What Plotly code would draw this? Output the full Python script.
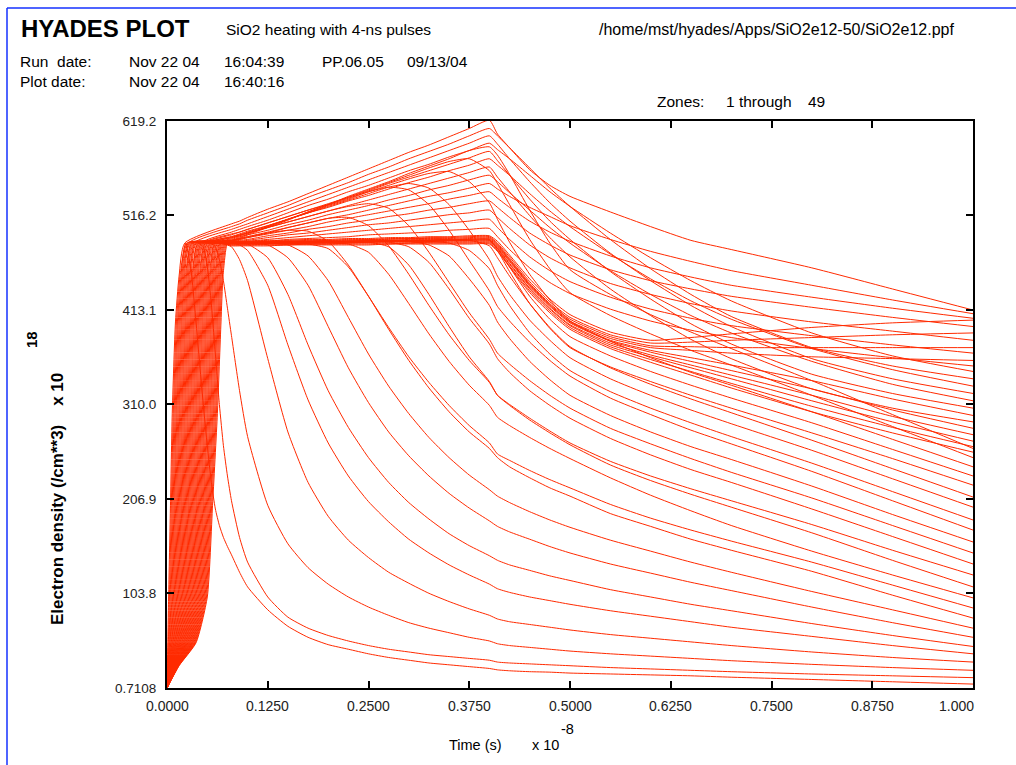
import plotly.graph_objects as go

# Electron density of the 49 zones of a HYADES run (SiO2, 4-ns pulse).
# Time in units of 1e-8 s, density in units of 1e18 /cm**3.

# Ionisation rise: time at which each zone passes these density levels.
RISE_LEVELS = [0.7108, 25, 50, 100, 200, 300, 400, 450, 486]
RISE_TIMES = [
    [0, .0005, .0010, .0020, .0043, .0065, .0105, .0150, .0220],
    [0, .0008, .0017, .0030, .0054, .0077, .0117, .0161, .0231],
    [0, .0011, .0025, .0040, .0065, .0088, .0129, .0173, .0242],
    [0, .0014, .0032, .0050, .0076, .0100, .0140, .0184, .0253],
    [0, .0017, .0039, .0060, .0087, .0112, .0152, .0195, .0264],
    [0, .0020, .0046, .0070, .0097, .0123, .0164, .0207, .0275],
    [0, .0023, .0054, .0080, .0108, .0135, .0176, .0218, .0286],
    [0, .0026, .0061, .0090, .0119, .0147, .0187, .0229, .0297],
    [0, .0029, .0068, .0100, .0130, .0158, .0199, .0241, .0308],
    [0, .0032, .0076, .0110, .0141, .0170, .0211, .0252, .0319],
    [0, .0035, .0083, .0120, .0152, .0182, .0223, .0264, .0330],
    [0, .0038, .0090, .0130, .0163, .0193, .0234, .0275, .0341],
    [0, .0041, .0098, .0140, .0174, .0205, .0246, .0286, .0353],
    [0, .0044, .0105, .0150, .0184, .0217, .0258, .0298, .0364],
    [0, .0047, .0112, .0160, .0195, .0228, .0270, .0309, .0375],
    [0, .0050, .0119, .0170, .0206, .0240, .0282, .0320, .0386],
    [0, .0053, .0127, .0180, .0217, .0252, .0293, .0332, .0397],
    [0, .0056, .0134, .0190, .0228, .0263, .0305, .0343, .0408],
    [0, .0059, .0141, .0200, .0239, .0275, .0317, .0354, .0419],
    [0, .0062, .0149, .0210, .0250, .0287, .0329, .0366, .0430],
    [0, .0065, .0156, .0220, .0261, .0298, .0340, .0377, .0441],
    [0, .0068, .0163, .0230, .0271, .0310, .0352, .0388, .0452],
    [0, .0071, .0170, .0240, .0282, .0322, .0364, .0400, .0463],
    [0, .0074, .0178, .0250, .0293, .0333, .0376, .0411, .0474],
    [0, .0078, .0185, .0260, .0304, .0345, .0388, .0423, .0485],
    [0, .0081, .0192, .0270, .0315, .0357, .0399, .0434, .0496],
    [0, .0084, .0200, .0280, .0326, .0368, .0411, .0445, .0507],
    [0, .0087, .0207, .0290, .0337, .0380, .0423, .0457, .0518],
    [0, .0090, .0214, .0300, .0348, .0392, .0435, .0468, .0529],
    [0, .0093, .0221, .0310, .0359, .0403, .0446, .0479, .0540],
    [0, .0096, .0229, .0320, .0369, .0415, .0458, .0491, .0551],
    [0, .0099, .0236, .0330, .0380, .0427, .0470, .0502, .0562],
    [0, .0102, .0243, .0340, .0391, .0438, .0482, .0513, .0573],
    [0, .0105, .0251, .0350, .0402, .0450, .0493, .0525, .0584],
    [0, .0108, .0258, .0360, .0413, .0462, .0505, .0536, .0595],
    [0, .0111, .0265, .0370, .0424, .0473, .0517, .0547, .0606],
    [0, .0114, .0273, .0380, .0435, .0485, .0529, .0559, .0617],
    [0, .0117, .0280, .0390, .0446, .0497, .0541, .0570, .0628],
    [0, .0120, .0287, .0400, .0456, .0508, .0552, .0581, .0639],
    [0, .0123, .0294, .0410, .0467, .0520, .0564, .0593, .0650],
    [0, .0126, .0302, .0420, .0478, .0532, .0576, .0604, .0662],
    [0, .0129, .0309, .0430, .0489, .0543, .0587, .0615, .0673],
    [0, .0132, .0316, .0440, .0500, .0555, .0599, .0627, .0684],
    [0, .0135, .0323, .0450, .0511, .0567, .0611, .0638, .0695],
    [0, .0138, .0331, .0460, .0522, .0578, .0623, .0650, .0706],
    [0, .0141, .0338, .0470, .0533, .0590, .0634, .0661, .0717],
    [0, .0144, .0345, .0480, .0543, .0602, .0646, .0672, .0728],
    [0, .0147, .0353, .0490, .0554, .0613, .0658, .0684, .0739],
    [0, .0150, .0360, .0500, .0565, .0625, .0670, .0695, .0750],
]

# Zones that start to fall back before t = 0.08 (zone index -> times, densities).
EARLY_DECAY = {
    1: ([0.030, 0.035, 0.040, 0.045, 0.050, 0.055, 0.060, 0.065, 0.070, 0.075],
        [455, 410, 360, 310, 265, 225, 196, 178, 165, 155]),
    7: ([0.040, 0.060], [486, 486]),
    11: ([0.050, 0.065], [486, 486]),
    14: ([0.045, 0.050, 0.055, 0.060, 0.065, 0.070, 0.075],
         [482, 460, 420, 365, 310, 265, 232]),
    22: ([0.055, 0.060, 0.065, 0.070, 0.075], [486, 482, 468, 445, 415]),
    28: ([0.060, 0.070], [486, 485]),
    33: ([0.065, 0.070], [486, 486]),
    39: ([0.070, 0.075], [486, 486]),
}

LATE_TIMES = [0.08, 0.09, 0.10, 0.125, 0.15, 0.175, 0.20, 0.225, 0.25, 0.275,
              0.30, 0.325, 0.35, 0.375, 0.40, 0.41, 0.425, 0.45, 0.475, 0.50,
              0.55, 0.60, 0.65, 0.70, 0.80, 0.90, 1.00]

LATE_DENSITY = [
    [507, 510, 514, 523, 531, 540, 549, 558, 567, 576, 585, 593, 602, 611, 620, 605, 590, 566, 549, 537, 520, 504, 489, 479, 459, 436, 413],
    [146, 127, 111, 86, 68, 56, 48, 43, 38, 34, 31, 28, 26, 24, 22, 20.5, 19.5, 18.5, 18, 17, 16, 15, 14, 12.5, 10, 7.5, 5],
    [488, 488, 488, 489, 489, 490, 490, 491, 491, 492, 492, 493, 493, 494, 494, 488, 473, 447, 425, 408, 389, 380, 383, 387, 394, 399, 402],
    [487, 487, 487, 487, 488, 488, 488, 488, 489, 489, 489, 489, 489, 489, 483, 470, 450, 420, 394, 373, 350, 332, 316, 301, 271, 240, 209],
    [504, 507, 511, 519, 527, 536, 544, 552, 561, 569, 578, 586, 594, 603, 611, 603, 590, 568, 546, 526, 490, 458, 430, 406, 372, 352, 338],
    [487, 487, 487, 488, 488, 489, 489, 490, 490, 491, 491, 492, 492, 493, 493, 486, 471, 444, 422, 405, 386, 377, 378, 380, 383, 386, 388],
    [487, 487, 487, 487, 487, 487, 488, 488, 488, 488, 488, 484, 472, 447, 418, 400, 382, 357, 337, 320, 298, 280, 264, 250, 221, 190, 160],
    [486, 486, 486, 484, 470, 440, 395, 350, 312, 280, 254, 232, 213, 197, 183, 177, 171, 163, 155, 148, 136, 126, 116, 107, 89, 72, 56],
    [487, 487, 487, 487, 488, 488, 489, 489, 490, 490, 491, 491, 491, 492, 492, 485, 469, 442, 420, 403, 384, 374, 373, 372, 372, 372, 372],
    [486, 486, 486, 486, 487, 487, 487, 487, 487, 487, 482, 465, 436, 404, 376, 360, 345, 325, 309, 295, 273, 255, 239, 225, 196, 166, 136],
    [501, 504, 507, 515, 523, 531, 539, 547, 555, 563, 571, 579, 587, 595, 603, 594, 578, 553, 530, 510, 475, 445, 418, 395, 360, 338, 322],
    [486, 486, 486, 486, 484, 472, 445, 405, 365, 330, 300, 274, 252, 233, 217, 210, 203, 193, 184, 176, 162, 150, 138, 127, 106, 86, 66],
    [486, 486, 486, 487, 487, 488, 488, 488, 489, 489, 490, 490, 490, 491, 491, 484, 468, 441, 419, 401, 382, 372, 369, 366, 362, 360, 358],
    [486, 486, 487, 487, 487, 487, 487, 488, 488, 488, 488, 488, 486, 478, 458, 440, 418, 388, 365, 347, 324, 306, 290, 275, 246, 215, 184],
    [205, 165, 138, 100, 78, 66, 58, 52, 47, 43, 40, 37, 35, 33, 31, 29, 28, 27, 26, 25, 23, 21.5, 20, 18.5, 16, 14, 12],
    [486, 486, 486, 486, 487, 487, 487, 488, 488, 488, 489, 489, 489, 490, 490, 483, 467, 440, 418, 400, 380, 369, 361, 353, 336, 316, 298],
    [486, 486, 486, 486, 486, 486, 487, 487, 487, 482, 462, 430, 395, 362, 335, 320, 309, 293, 279, 266, 244, 227, 212, 198, 170, 140, 111],
    [487, 487, 487, 487, 488, 488, 488, 488, 489, 489, 489, 489, 490, 490, 490, 478, 455, 420, 393, 372, 351, 335, 320, 306, 279, 251, 222],
    [498, 501, 504, 511, 519, 527, 534, 542, 549, 557, 565, 572, 580, 587, 595, 588, 578, 560, 542, 526, 497, 470, 445, 423, 388, 363, 346],
    [485, 485, 485, 486, 486, 486, 487, 487, 487, 488, 488, 488, 489, 489, 489, 482, 466, 439, 417, 399, 379, 367, 357, 347, 327, 304, 284],
    [489, 491, 493, 497, 500, 499, 488, 462, 428, 392, 358, 328, 302, 280, 262, 252, 242, 230, 219, 210, 191, 177, 163, 151, 128, 102, 77],
    [496, 498, 501, 508, 515, 522, 528, 535, 542, 547, 544, 528, 500, 467, 434, 417, 401, 378, 358, 341, 317, 299, 282, 267, 237, 205, 173],
    [385, 325, 275, 200, 158, 132, 114, 100, 89, 80, 72, 66, 61, 56, 52, 49, 47, 45, 43, 41, 38, 35.5, 33, 30.5, 26.5, 23, 20],
    [495, 498, 501, 508, 515, 522, 529, 536, 543, 551, 558, 565, 572, 579, 586, 576, 560, 534, 510, 490, 455, 425, 398, 376, 343, 322, 306],
    [485, 485, 485, 485, 485, 486, 486, 486, 487, 487, 487, 487, 488, 488, 488, 481, 464, 437, 415, 397, 377, 364, 353, 342, 320, 297, 277],
    [493, 495, 497, 503, 509, 515, 521, 526, 529, 524, 505, 476, 443, 410, 381, 366, 354, 336, 320, 306, 284, 267, 251, 236, 208, 178, 148],
    [486, 486, 486, 486, 487, 487, 487, 487, 488, 488, 488, 488, 489, 489, 489, 480, 460, 428, 403, 384, 363, 346, 331, 317, 290, 261, 232],
    [493, 496, 499, 505, 512, 519, 525, 532, 538, 545, 552, 558, 565, 571, 578, 571, 560, 540, 521, 504, 474, 447, 423, 403, 371, 348, 330],
    [482, 468, 445, 360, 280, 225, 188, 162, 143, 127, 115, 104, 95, 87, 80, 76, 73, 70, 67, 64, 59, 55, 51, 47, 40, 34, 29],
    [488, 490, 492, 497, 503, 508, 513, 514, 505, 483, 452, 418, 386, 358, 334, 320, 310, 295, 281, 268, 248, 232, 218, 205, 179, 151, 124],
    [492, 494, 497, 503, 509, 515, 521, 527, 533, 539, 545, 551, 557, 563, 569, 558, 542, 516, 492, 471, 436, 407, 381, 360, 327, 306, 291],
    [484, 484, 484, 485, 485, 485, 485, 486, 486, 486, 486, 487, 487, 487, 487, 480, 463, 436, 414, 396, 375, 362, 350, 338, 314, 291, 270],
    [492, 495, 498, 505, 512, 519, 526, 533, 540, 547, 551, 546, 528, 500, 468, 450, 430, 402, 380, 361, 338, 320, 304, 289, 260, 229, 198],
    [486, 484, 478, 440, 375, 315, 268, 232, 204, 182, 163, 148, 135, 124, 114, 109, 105, 100, 96, 92, 85, 79, 73, 67, 57, 47, 38],
    [490, 493, 495, 500, 506, 511, 517, 522, 527, 533, 538, 544, 549, 555, 560, 553, 541, 522, 503, 486, 456, 430, 407, 388, 357, 332, 314],
    [486, 486, 486, 486, 486, 485, 480, 460, 428, 394, 362, 334, 309, 287, 268, 256, 249, 238, 228, 219, 201, 186, 173, 161, 138, 113, 88],
    [489, 491, 493, 498, 503, 508, 513, 517, 522, 527, 532, 537, 541, 546, 551, 545, 537, 525, 515, 505, 490, 477, 466, 456, 440, 424, 409],
    [484, 484, 484, 484, 484, 485, 485, 485, 485, 485, 486, 486, 486, 486, 486, 478, 461, 434, 412, 394, 373, 359, 346, 333, 308, 285, 264],
    [491, 494, 497, 504, 512, 519, 527, 534, 542, 549, 556, 562, 564, 553, 530, 512, 487, 452, 424, 401, 379, 361, 345, 331, 302, 272, 242],
    [486, 486, 485, 470, 430, 375, 325, 285, 252, 225, 203, 185, 169, 156, 145, 140, 135, 129, 123, 118, 108, 100, 92, 85, 71, 58, 46],
    [488, 490, 492, 496, 500, 504, 509, 513, 517, 521, 525, 529, 534, 538, 542, 535, 525, 510, 498, 488, 472, 459, 449, 440, 427, 415, 404],
    [486, 486, 486, 486, 486, 486, 486, 485, 476, 452, 420, 387, 357, 331, 309, 296, 287, 274, 262, 251, 230, 211, 194, 178, 150, 124, 99],
    [483, 483, 483, 483, 484, 484, 484, 484, 484, 485, 485, 485, 485, 485, 485, 477, 460, 432, 410, 392, 371, 356, 342, 328, 302, 279, 258],
    [487, 489, 490, 494, 497, 501, 504, 508, 511, 515, 518, 522, 525, 529, 532, 525, 514, 497, 484, 473, 457, 445, 436, 428, 416, 405, 395],
    [489, 492, 496, 504, 512, 520, 528, 536, 544, 552, 560, 568, 575, 578, 565, 551, 528, 490, 458, 432, 407, 387, 369, 353, 320, 286, 252],
    [487, 488, 489, 492, 495, 497, 500, 503, 506, 508, 511, 514, 517, 519, 522, 514, 502, 484, 470, 459, 442, 430, 420, 412, 400, 390, 380],
    [487, 487, 488, 490, 492, 494, 496, 498, 500, 502, 504, 506, 508, 510, 512, 503, 490, 471, 456, 444, 427, 414, 404, 396, 385, 375, 366],
    [488, 491, 495, 503, 511, 520, 528, 537, 545, 553, 562, 570, 578, 587, 591, 582, 561, 522, 486, 457, 430, 408, 389, 371, 336, 299, 262],
    [486, 487, 487, 488, 490, 491, 492, 493, 495, 496, 497, 498, 500, 501, 502, 493, 479, 459, 443, 431, 414, 401, 391, 383, 371, 361, 352],
]

X_TICKS = [0.0, 0.125, 0.25, 0.375, 0.5, 0.625, 0.75, 0.875, 1.0]
X_TICK_TEXT = ["0.0000", "0.1250", "0.2500", "0.3750", "0.5000",
               "0.6250", "0.7500", "0.8750", "1.000"]
Y_TICKS = [0.7108, 103.8, 206.9, 310.0, 413.1, 516.2, 619.2]
Y_TICK_TEXT = ["0.7108", "103.8", "206.9", "310.0", "413.1", "516.2", "619.2"]

LINE_RED = "#ff2a00"
SANS = "Liberation Sans, Arial, Helvetica, sans-serif"

fig = go.Figure()

for zone, rise_t in enumerate(RISE_TIMES):
    xs = list(rise_t)
    ys = list(RISE_LEVELS)
    if zone in EARLY_DECAY:
        et, en = EARLY_DECAY[zone]
        xs += et
        ys += en
    xs += LATE_TIMES
    ys += LATE_DENSITY[zone]
    fig.add_trace(go.Scatter(
        x=xs, y=ys, mode="lines", name=f"Zone {zone + 1}",
        line=dict(color=LINE_RED, width=1, shape="spline", smoothing=0.55),
        hoverinfo="skip",
    ))

# plot area spans x 167..973 px and y 121..688 px of the page
L, R, T, B = 167, 973, 121, 688
W, H = 1016, 765


def px(x):
    return (x - L) / (R - L)


def py(y):
    return (B - y) / (B - T)


axis_common = dict(
    showline=True, linewidth=2, linecolor="black", mirror="ticks",
    ticks="inside", ticklen=7, tickwidth=2, tickcolor="black",
    showgrid=False, zeroline=False,
)

fig.update_layout(
    width=W, height=H,
    margin=dict(l=L, r=W - R, t=T, b=H - B),
    paper_bgcolor="white", plot_bgcolor="white",
    showlegend=False,
    xaxis=dict(range=[0, 1.0], tickvals=X_TICKS, showticklabels=False,
               **axis_common),
    yaxis=dict(range=[0.7108, 619.2], tickvals=Y_TICKS, ticktext=Y_TICK_TEXT,
               tickfont=dict(family=SANS, size=13.5, color="#222"),
               ticklabelstandoff=6, **axis_common),
)

# time tick labels; the last one is kept inside the frame's right edge
for tv, tt in zip(X_TICKS, X_TICK_TEXT):
    last = tv == X_TICKS[-1]
    fig.add_annotation(
        x=tv, y=py(706), xref="x", yref="paper", text=tt, showarrow=False,
        xanchor="right" if last else "center", yanchor="middle",
        xshift=3 if last else 0,
        font=dict(family=SANS, size=14, color="#222"),
    )


def text(x, y, s, size=16, bold=False, anchor="left", angle=0, yanchor="middle"):
    fig.add_annotation(
        x=px(x), y=py(y), xref="paper", yref="paper", text=f"<b>{s}</b>" if bold else s,
        showarrow=False, xanchor=anchor, yanchor=yanchor, textangle=angle,
        font=dict(family=SANS, size=size, color="black"),
    )


# header block
text(19, 28, "HYADES PLOT", size=24, bold=True)
text(224, 30, "SiO2 heating with 4-ns pulses", size=15.5)
text(597, 30, "/home/mst/hyades/Apps/SiO2e12-50/SiO2e12.ppf", size=16)
text(18, 61, "Run\u00a0 date:", size=15.5)
text(127, 61, "Nov 22 04", size=15.5)
text(222, 61, "16:04:39", size=15.5)
text(320, 61, "PP.06.05", size=15.5)
text(405, 61, "09/13/04", size=15.5)
text(18, 81, "Plot date:", size=15.5)
text(127, 81, "Nov 22 04", size=15.5)
text(222, 81, "16:40:16", size=15.5)
text(655, 101, "Zones:", size=15.5)
text(724, 101, "1 through", size=15.5)
text(806, 101, "49", size=15.5)

# axis titles
text(57, 499, "Electron density (/cm**3)\u00a0\u00a0\u00a0 x 10", size=17, bold=True,
     anchor="center", angle=-90)
text(31, 340, "18", size=15, bold=True, anchor="center", angle=-90)
text(447, 745, "Time (s)", size=14.5)
text(530, 745, "x 10", size=14.5)
text(559, 729, "-8", size=14.5)

# blue page frame along the top and left edges
fig.add_shape(type="line", xref="paper", yref="paper",
              x0=px(7), y0=py(8), x1=px(W), y1=py(8),
              line=dict(color="#1530ff", width=1.5))
fig.add_shape(type="line", xref="paper", yref="paper",
              x0=px(7), y0=py(8), x1=px(7), y1=py(H),
              line=dict(color="#1530ff", width=1.5))

fig.write_html("out.html")
